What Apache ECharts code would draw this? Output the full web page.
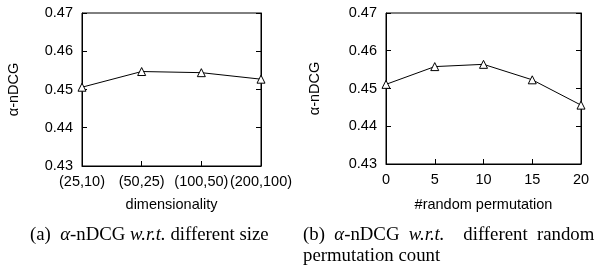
<!DOCTYPE html>
<html>
<head>
<meta charset="utf-8">
<script src="https://cdn.jsdelivr.net/npm/echarts@6/dist/echarts.min.js"></script>
<style>
  html, body { margin: 0; padding: 0; background: #fff; }
  #chart { width: 598px; height: 269px; }
</style>
</head>
<body>
<div id="chart"></div>
<script>
// data
const dimCategories = ['(25,10)', '(50,25)', '(100,50)', '(200,100)']
const dimValues = [0.4506, 0.4547, 0.4544, 0.4527]
const permCounts = [0, 5, 10, 15, 20]
const permValues = [0.4511, 0.4558, 0.4564, 0.4523, 0.4456]
const yMin = 0.43
const yMax = 0.47
const yStep = 0.01

const axisFont = { fontFamily: 'Liberation Sans', fontSize: 14.5, color: '#000' }
const blackLine = { lineStyle: { color: '#000', width: 1 } }
const innerTick = { show: true, inside: true, length: 5, lineStyle: { color: '#000', width: 1 } }

function yAxisFor (gridIndex, name, gap) {
  return [{
    type: 'value', gridIndex: gridIndex, min: yMin, max: yMax, interval: yStep,
    name: name, nameLocation: 'middle', nameGap: gap,
    nameTextStyle: axisFont,
    axisLine: Object.assign({ show: true }, blackLine),
    axisTick: innerTick,
    axisLabel: Object.assign({ formatter: v => v.toFixed(2), margin: 9 }, axisFont),
    splitLine: { show: false }
  }, {
    type: 'value', gridIndex: gridIndex, position: 'right', min: yMin, max: yMax, interval: yStep,
    axisLine: Object.assign({ show: true }, blackLine),
    axisTick: innerTick,
    axisLabel: { show: false },
    splitLine: { show: false }
  }]
}

const seriesStyle = {
  type: 'line',
  symbol: 'triangle',
  symbolSize: 8,
  itemStyle: { color: '#fff', borderColor: '#000', borderWidth: 1 },
  lineStyle: { color: '#000', width: 1 },
  emphasis: { disabled: true },
  animation: false
}

const capRich = { i: { fontStyle: 'italic', fontFamily: 'Liberation Serif', fontSize: 18.8, lineHeight: 21 } }

let chart = echarts.init(document.getElementById('chart'))
chart.setOption({
  backgroundColor: '#fff',
  animation: false,
  grid: [
    { left: 82, top: 13, width: 179, height: 153, show: true, borderColor: '#000', borderWidth: 1 },
    { left: 386, top: 13, width: 195, height: 151, show: true, borderColor: '#000', borderWidth: 1 }
  ],
  xAxis: [{
    type: 'category', gridIndex: 0, data: dimCategories, boundaryGap: false,
    name: 'dimensionality', nameLocation: 'middle', nameGap: 31,
    nameTextStyle: axisFont,
    axisLine: blackLine,
    axisTick: Object.assign({ alignWithLabel: true }, innerTick),
    axisLabel: Object.assign({ margin: 8, interval: 0 }, axisFont)
  }, {
    type: 'value', gridIndex: 1, min: 0, max: 20, interval: 5,
    name: '#random permutation', nameLocation: 'middle', nameGap: 33,
    nameTextStyle: axisFont,
    axisLine: blackLine,
    axisTick: innerTick,
    axisLabel: Object.assign({ margin: 8 }, axisFont),
    splitLine: { show: false }
  }],
  yAxis: yAxisFor(0, 'α-nDCG', 61).concat(yAxisFor(1, 'α-nDCG', 64)),
  series: [
    Object.assign({ xAxisIndex: 0, yAxisIndex: 0, data: dimValues }, seriesStyle),
    Object.assign({ xAxisIndex: 1, yAxisIndex: 2, data: permCounts.map((c, i) => [c, permValues[i]]) }, seriesStyle)
  ],
  graphic: [
    {
      type: 'text', left: 30, top: 225,
      style: {
        text: '(a)  {i|α}-nDCG {i|w.r.t.} different size',
        font: '18.8px "Liberation Serif"', fill: '#000', lineHeight: 21,
        rich: capRich
      }
    },
    {
      type: 'text', left: 303, top: 225,
      style: {
        text: '(b)  {i|α}-nDCG  {i|w.r.t.}    different  random\npermutation count',
        font: '18.8px "Liberation Serif"', fill: '#000', lineHeight: 21,
        rich: capRich
      }
    }
  ]
})
</script>
</body>
</html>
